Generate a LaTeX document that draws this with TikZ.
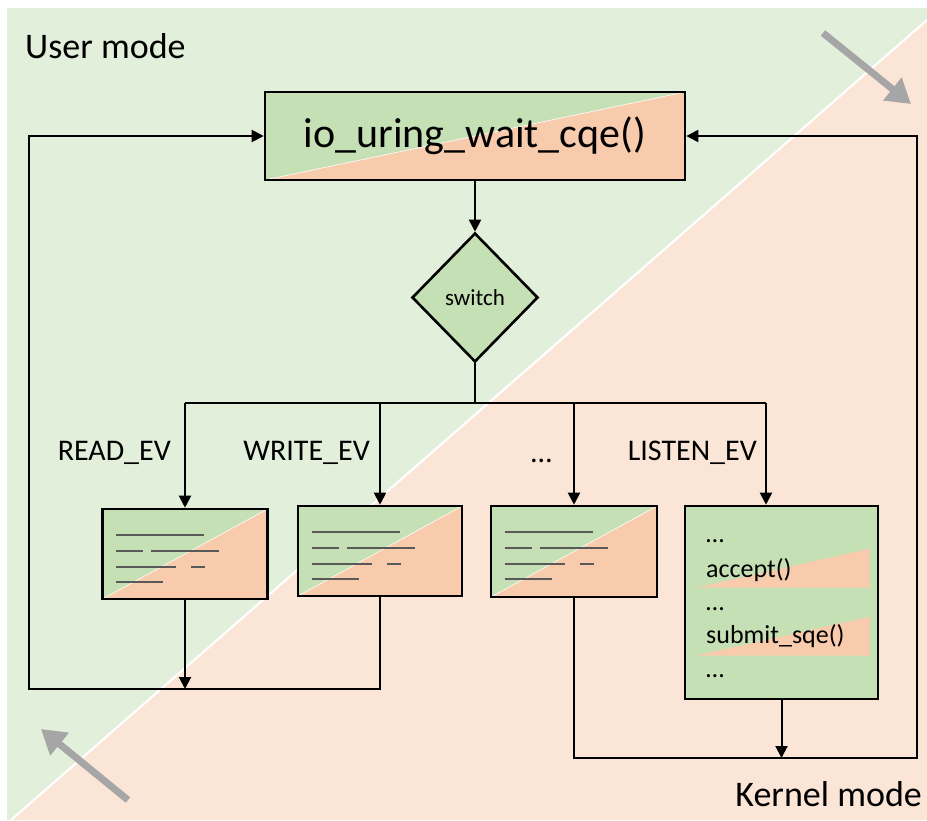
\documentclass[tikz,border=0pt]{standalone}
\usepackage{fontspec}
\setmainfont{Carlito}
\usetikzlibrary{shapes.geometric,arrows.meta}
\definecolor{bggreen}{HTML}{E2EFDA}
\definecolor{bgpeach}{HTML}{FBE5D6}
\definecolor{boxgreen}{HTML}{C5E0B4}
\definecolor{boxorange}{HTML}{F8CBAD}
\definecolor{fakegray}{HTML}{595959}
\definecolor{arrowgray}{HTML}{A6A6A6}
\newcommand\fakelines{%
  \draw[fakeline] (15,27) -- (103,27);
  \draw[fakeline] (15,43) -- (42,43) (50,43) -- (118,43);
  \draw[fakeline] (15,59) -- (75,59) (90,59) -- (104,59);
  \draw[fakeline] (15,74) -- (62,74);
}
\begin{document}
\begin{tikzpicture}[x=1pt,y=-1pt,
  splitfill/.style={path picture={
    \fill[boxgreen] (path picture bounding box.south west) rectangle (path picture bounding box.north east);
    \fill[boxorange] (path picture bounding box.south west) -- (path picture bounding box.south east) -- (path picture bounding box.north east) -- cycle;
    \draw[white, line width=0.6pt] (path picture bounding box.south west) -- (path picture bounding box.north east);}},
  boxstyle/.style={draw, line width=2.6pt, inner sep=0pt},
  flow/.style={line width=2pt, -{Triangle[length=12pt,width=12pt]}},
  conn/.style={line width=2pt},
  fakeline/.style={draw=fakegray, line width=2pt},
  lbl/.style={font=\fontsize{30}{36}\selectfont, anchor=base east, inner sep=0pt},
  codetxt/.style={font=\fontsize{26}{30}\selectfont, anchor=base west, inner sep=0pt},
  grayarrow/.style={draw=arrowgray, line width=7pt, -{Triangle[length=24pt,width=28pt]}},
]
\useasboundingbox (0,0) rectangle (927,820);
% background
\fill[bggreen] (7,8) rectangle (927,820);
\fill[bgpeach] (927,20) -- (927,820) -- (11,820) -- cycle;
\begin{scope}
\clip (7,8) rectangle (927,820);
\draw[white, line width=2.2pt] (927,20) -- (11,820);
\end{scope}
% mode labels
\node[font=\fontsize{36}{42}\selectfont, anchor=base west, inner sep=0pt] (um) at (25,58) {User mode};
\node[font=\fontsize{36}{42}\selectfont, anchor=base east, inner sep=0pt] (km) at (922,806) {Kernel mode};
% gray arrows
\draw[grayarrow] (823,33) -- (911,104);
\draw[grayarrow] (128,800) -- (41,729);
% top box
\node[boxstyle, splitfill, minimum width=420pt, minimum height=88pt,
      font=\fontsize{42}{50}\selectfont] (wait) at (475,136) {io\_uring\_wait\_cqe()};
% diamond
\node[draw, line width=2.6pt, shape=diamond, fill=boxgreen, minimum width=126pt, minimum height=129pt,
      inner sep=0pt, font=\fontsize{23}{28}\selectfont] (sw) at (475,297.5) {switch};
% boxes
\node[boxstyle, splitfill, minimum width=165pt, minimum height=90pt] (b1) at (185,554) {};
\node[boxstyle, splitfill, minimum width=164pt, minimum height=90pt] (b2) at (380,551) {};
\node[boxstyle, splitfill, minimum width=166pt, minimum height=91pt] (b3) at (574,551.5) {};
\node[boxstyle, fill=boxgreen, minimum width=193pt, minimum height=193pt] (b4) at (781.5,602.5) {};
\begin{scope}[shift={(b1.north west)}]\fakelines\end{scope}
\begin{scope}[shift={(b2.north west)}]\fakelines\end{scope}
\begin{scope}[shift={(b3.north west)}]\fakelines\end{scope}
% listen box content
\begin{scope}[shift={(b4.north west)}]
\fill[boxorange] (12,83) -- (186,44) -- (186,83) -- cycle;
\fill[boxorange] (12,151) -- (186,112) -- (186,151) -- cycle;
\end{scope}
\node[codetxt] (d1) at (706,542) {…};
\node[codetxt] (acc) at (706,577) {accept()};
\node[codetxt] (d2) at (706,610) {…};
\node[codetxt] (sub) at (706,643) {submit\_sqe()};
\node[codetxt] (d3) at (706,677) {…};
% labels
\node[lbl] (lr) at (171,460) {READ\_EV};
\node[lbl] (lw) at (370,460) {WRITE\_EV};
\node[lbl] (ld) at (552,462) {…};
\node[lbl] (ll) at (757,460) {LISTEN\_EV};
% connectors
\coordinate (busL) at (185,403);
\coordinate (busR) at (766,403);
\coordinate (t4) at (766,403);
\coordinate (lb) at (29,689);
\coordinate (lt) at (29,136);
\coordinate (rb) at (917,758);
\coordinate (rt) at (917,136);
\draw[flow] (wait.south) -- (sw.north);
\draw[conn] (sw.south) -- (sw.south |- busL);
\draw[conn] (busL) -- (busR);
\draw[flow] (busL) -- (busL |- b1.north);
\draw[flow] (b2.north |- busL) -- (b2.north);
\draw[flow] (b3.north |- busL) -- (b3.north);
\draw[flow] (t4) -- (t4 |- b4.north);
\draw[flow] (b1.south) -- (b1.south |- lb);
\draw[flow, line join=miter] (b2.south) |- (lb) -- (lt) -- (wait.west);
\draw[flow, line join=miter] (b3.south) |- (rb) -- (rt) -- (wait.east);
\draw[flow] (b4.south) -- (b4.south |- rb);
\end{tikzpicture}
\end{document}
